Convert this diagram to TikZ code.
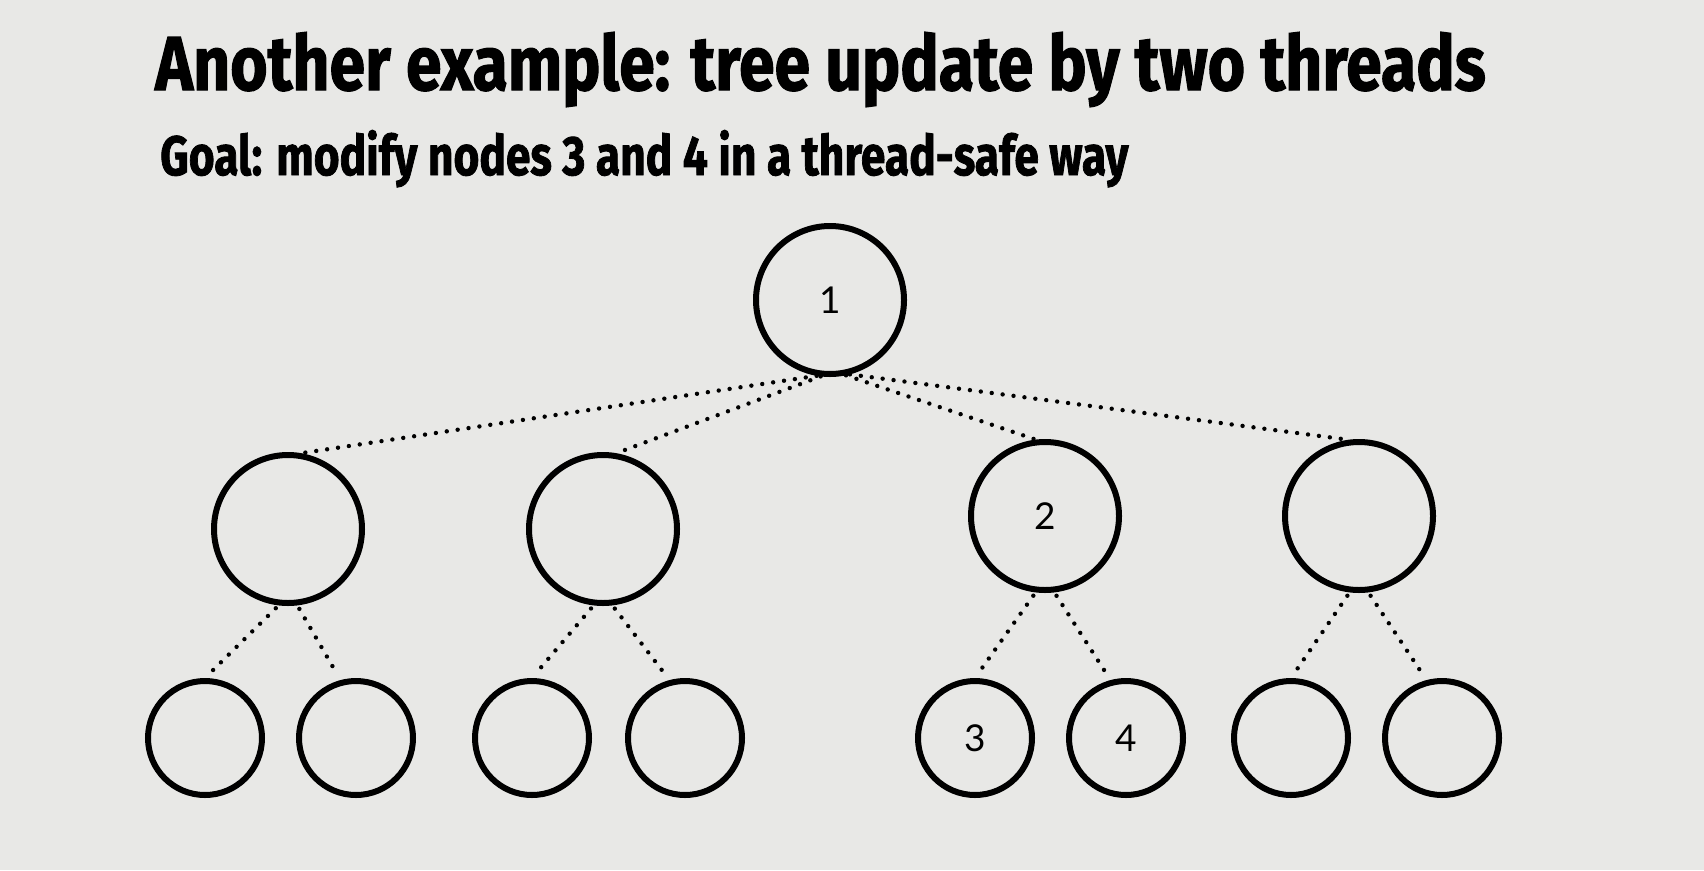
\documentclass[tikz,border=0pt]{standalone}
\usepackage{fontspec}
\newfontfamily\titlefont[BoldFeatures={FakeBold=1.6}]{Fira Sans}
\newfontfamily\labelfont{Lato}
\usepackage{tikz}
\usetikzlibrary{positioning}
\definecolor{slidebg}{RGB}{232,232,230}

\begin{document}
\begin{tikzpicture}[x=1pt,y=-1pt,
		inner/.style={circle,draw,line width=6pt,minimum size=148pt,inner sep=0pt,font=\labelfont\fontsize{37}{40}\selectfont},
		leaf/.style={circle,draw,line width=6pt,minimum size=114pt,inner sep=0pt,font=\labelfont\fontsize{37}{40}\selectfont},
		edge/.style={line width=4.4pt,line cap=round,dash pattern=on 0pt off 11pt}]
	%% background
	\fill[slidebg] (0,0) rectangle (1704,870);
	\useasboundingbox (0,0) rectangle (1704,870);
	%% titles
	\node[anchor=base west,inner sep=0pt] (title) at (155,90) {\resizebox{1330pt}{58pt}{\titlefont\bfseries Another example: tree update by two threads}};
	\node[anchor=base west,inner sep=0pt] (goal) at (160,175) {\resizebox{968pt}{45pt}{\titlefont\bfseries Goal: modify nodes 3 and 4 in a thread-safe way}};
	%% define nodes
	\node (root) at (830,300) [inner] {1};
	\node (m1) at (288,529) [inner] {};
	\node (m2) at (603,529) [inner] {};
	\node (m3) at (1045,516) [inner] {2};
	\node (m4) at (1359,516) [inner] {};
	\node (l1) at (205,738) [leaf] {};
	\node (l2) at (356,738) [leaf] {};
	\node (l3) at (532,738) [leaf] {};
	\node (l4) at (685,738) [leaf] {};
	\node (l5) at (975,738) [leaf] {3};
	\node (l6) at (1126,738) [leaf] {4};
	\node (l7) at (1291,738) [leaf] {};
	\node (l8) at (1442,738) [leaf] {};
	%% define edges
	\draw[edge] (root.-100) -- (m1.80);
	\draw[edge] (root.-97) -- (m2.80);
	\draw[edge] (root.-78) -- (m3.97);
	\draw[edge] (root.-75) -- (m4.98);
	\foreach \p/\a/\b in {m1/l1/l2,m2/l3/l4,m3/l5/l6,m4/l7/l8} {
		\draw[edge,shorten <=4pt,shorten >=8pt] (\p.-97) -- (\a.north);
		\draw[edge,shorten <=4pt,shorten >=8pt] (\p.-83) -- (\b.105);
	}
\end{tikzpicture}
\end{document}
